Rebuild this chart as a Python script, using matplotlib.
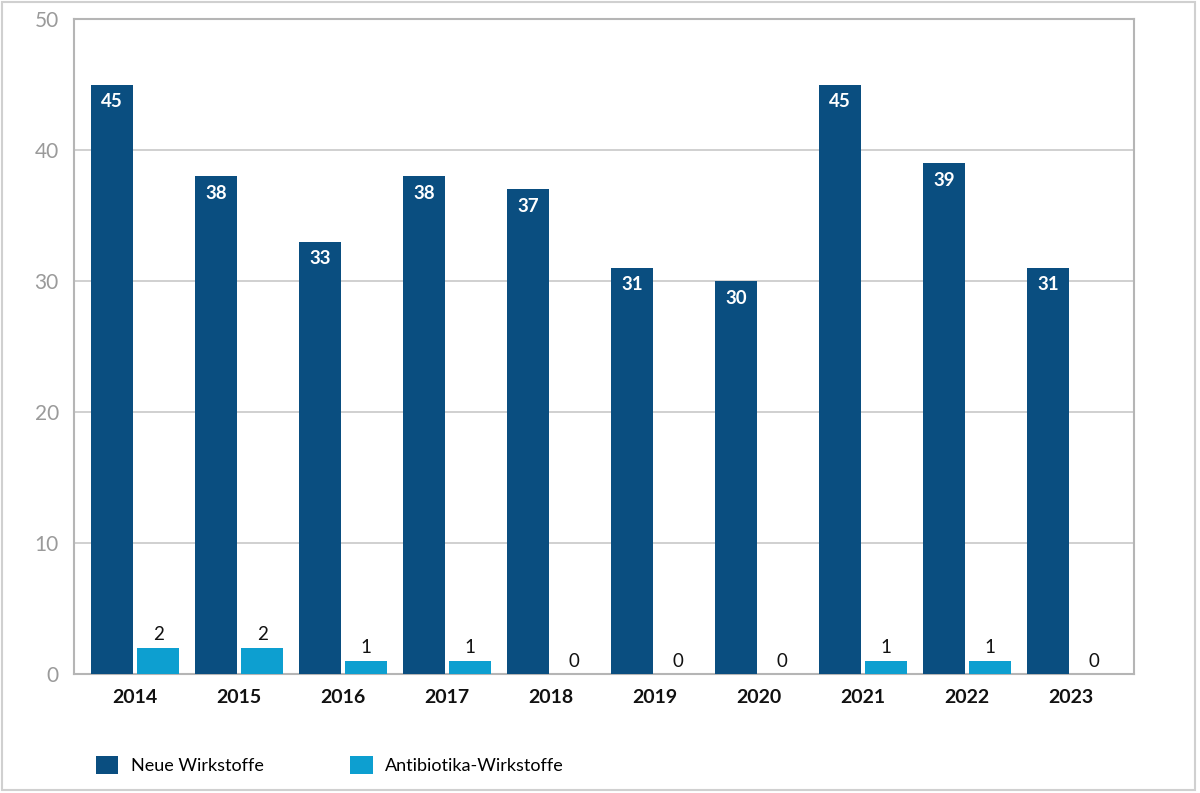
import numpy as np
import matplotlib.pyplot as plt
from matplotlib.patches import Rectangle

plt.rcParams['font.family'] = ['Lato', 'DejaVu Sans']

jahre = ['2014', '2015', '2016', '2017', '2018', '2019', '2020', '2021', '2022', '2023']
neue_wirkstoffe = [45, 38, 33, 38, 37, 31, 30, 45, 39, 31]
antibiotika_wirkstoffe = [2, 2, 1, 1, 0, 0, 0, 1, 1, 0]

dunkel = '#0a4e80'
hell = '#0d9fd0'

fig = plt.figure(figsize=(12, 7.93), dpi=100)
ax = fig.add_axes([0.0617, 0.150, 0.8833, 0.826])

x = np.arange(len(jahre))
b = 0.404
off = 0.221
bars1 = ax.bar(x - off, neue_wirkstoffe, b, color=dunkel, label='Neue Wirkstoffe', zorder=3)
bars2 = ax.bar(x + off, antibiotika_wirkstoffe, b, color=hell, label='Antibiotika-Wirkstoffe', zorder=3)

# Beschriftungen
for xi, v in zip(x, neue_wirkstoffe):
    ax.annotate(str(v), (xi - off, v), xytext=(0, -17), textcoords='offset pixels',
                ha='center', va='center', color='white', fontsize=13.5, fontweight='bold', zorder=4)
for xi, v in zip(x, antibiotika_wirkstoffe):
    ax.annotate(str(v), (xi + off, v), xytext=(0, 13), textcoords='offset pixels',
                ha='center', va='center', color='#111111', fontsize=13.5, zorder=4)

ax.set_xlim(-0.587, 9.606)
ax.set_ylim(0, 50)
ax.set_yticks(range(0, 51, 10))
ax.set_xticks(x)
ax.set_xticklabels(jahre, fontsize=14, fontweight='bold', color='#111111')
ax.tick_params(axis='y', labelsize=15, labelcolor='#9a9a9a', length=0, pad=11)
ax.tick_params(axis='x', length=0, pad=11)
ax.grid(axis='y', color='#c8c8c8', lw=1.2, zorder=0)
for s in ax.spines.values():
    s.set_color('#b5b5b5')
    s.set_linewidth(1.5)

fig.legend(handles=[bars1, bars2], loc='lower left', bbox_to_anchor=(0.0667, 0.003),
           ncol=2, frameon=False, fontsize=13, handlelength=1.22, handleheight=1.22,
           columnspacing=4.8, handletextpad=0.7)

# Rahmen um die Grafik
fig.patches.append(Rectangle((0.002, 0.004), 0.994, 0.993, transform=fig.transFigure,
                             fill=False, edgecolor='#d0d0d0', lw=1.5))

plt.savefig('out.png', dpi=100)
